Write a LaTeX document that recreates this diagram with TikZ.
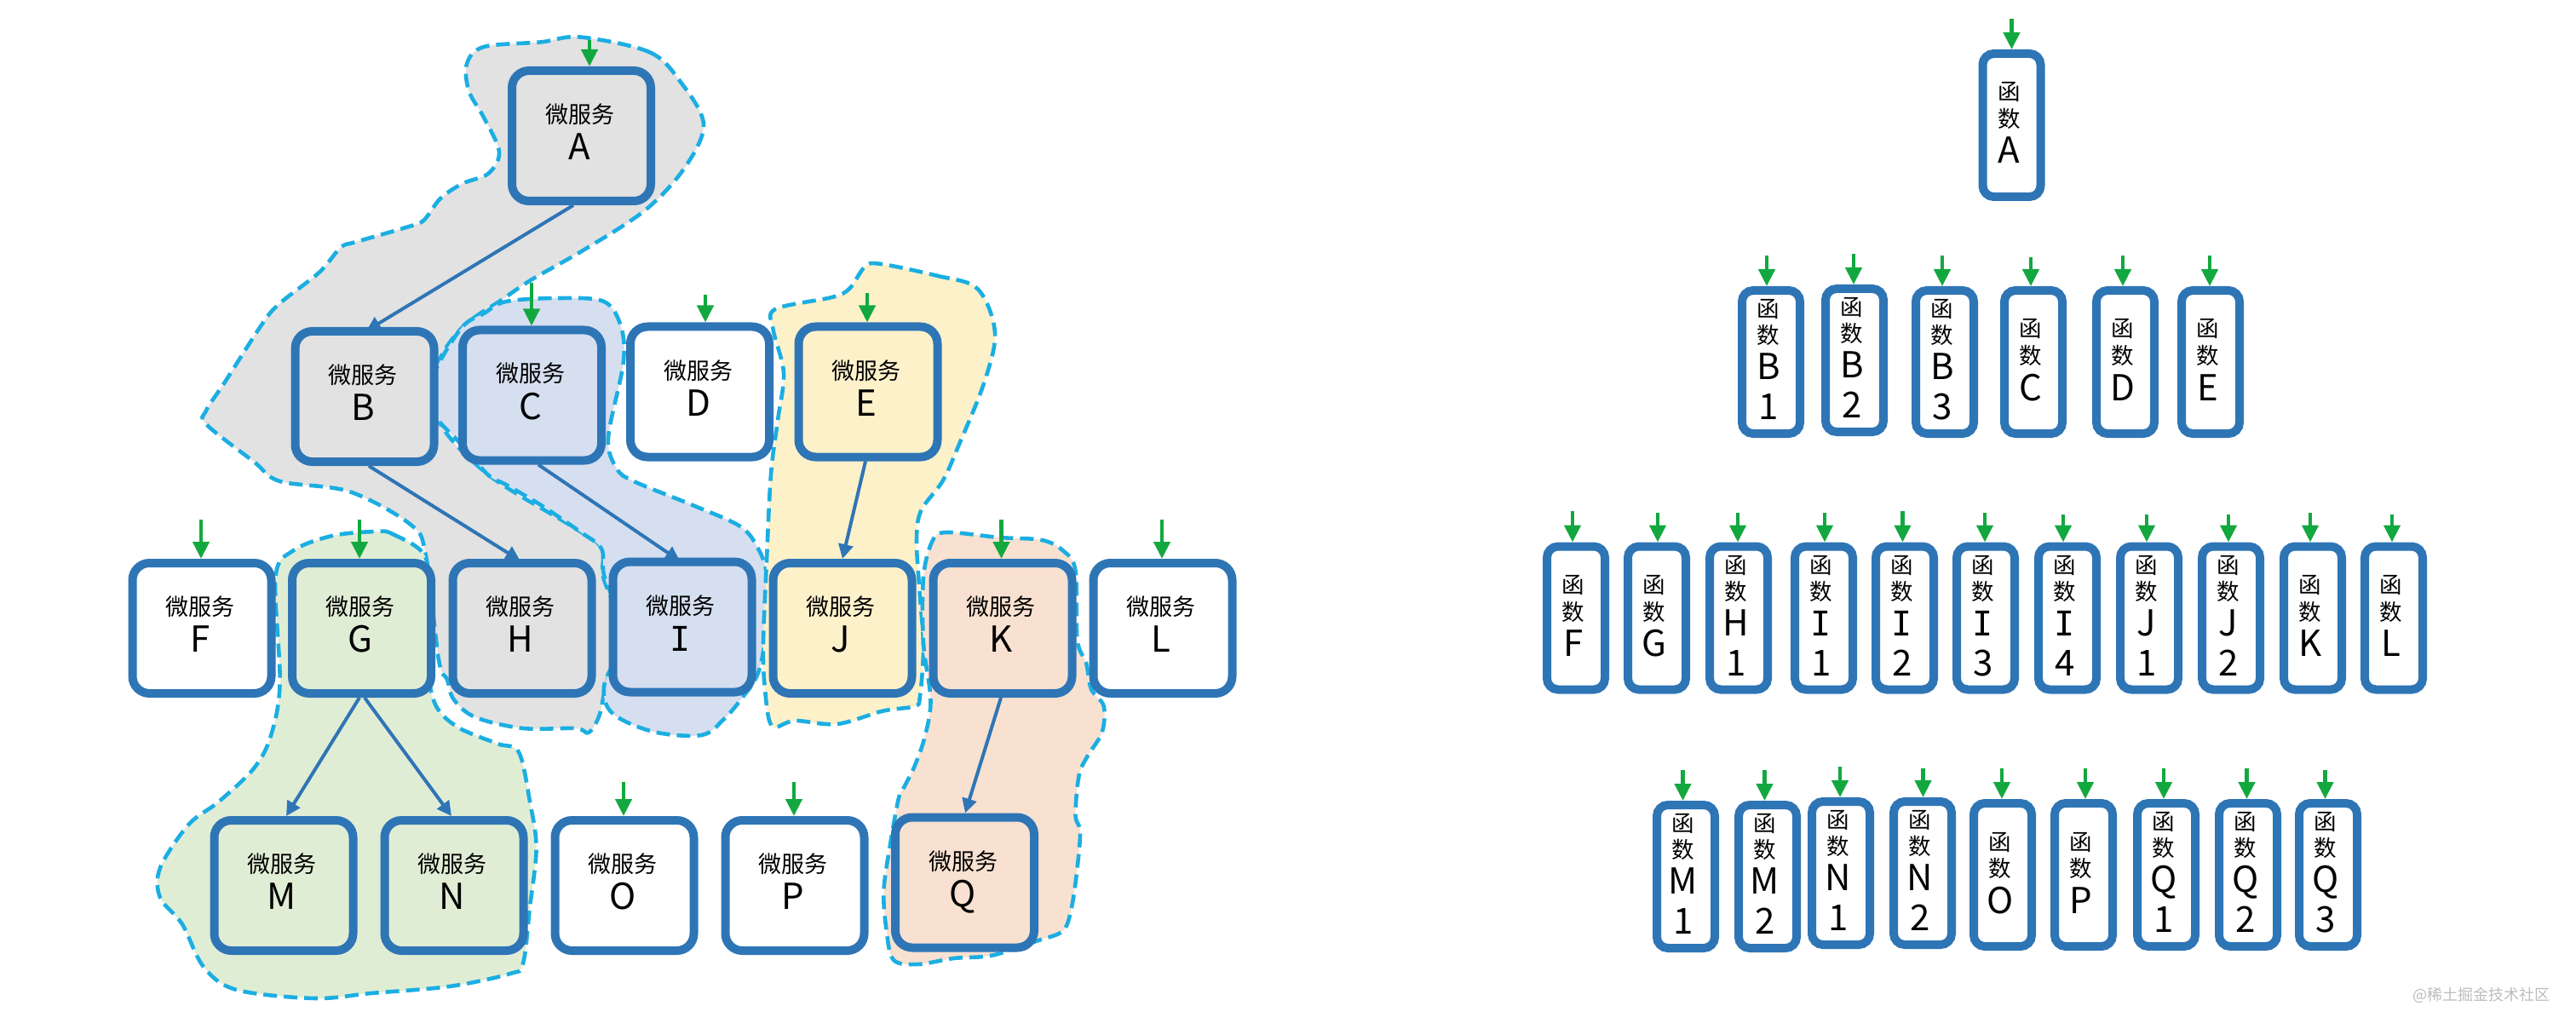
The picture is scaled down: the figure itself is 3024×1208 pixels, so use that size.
\documentclass[tikz,border=0pt]{standalone}
\usepackage{fontspec}
\setmainfont{Noto Sans CJK SC}
\newfontfamily\slabfont{DejaVu Sans Mono}
\usetikzlibrary{arrows.meta,backgrounds}
\definecolor{boxblue}{HTML}{2E75B6}
\definecolor{entrygreen}{HTML}{13A83F}
\definecolor{dashcyan}{HTML}{1BAEE2}
\definecolor{blobgrey}{HTML}{E2E2E2}
\definecolor{blobblue}{HTML}{D5DFF0}
\definecolor{blobyellow}{HTML}{FDF1CA}
\definecolor{bloborange}{HTML}{F8E1D0}
\definecolor{blobgreen}{HTML}{E0EDD5}
\definecolor{wmgrey}{HTML}{BDBDBD}
\newcommand\tline[4]{\hbox to 0pt{\hss\vrule width 0pt height #2 depth 0pt\smash{\fontsize{#3}{#3}\selectfont #4}\hss\kern #1}}
\newcommand\svctext[1]{\vbox{\offinterlineskip\tline{2pt}{6.5pt}{13.5pt}{微服务}\tline{2pt}{21.5pt}{21pt}{#1}}}
\newcommand\fnthree[1]{\vbox{\offinterlineskip\tline{3pt}{8pt}{13.25pt}{函}\tline{3pt}{15.75pt}{13.25pt}{数}\tline{3pt}{21.25pt}{21pt}{#1}}}
\newcommand\fnfour[2]{\vbox{\offinterlineskip\tline{3pt}{7.55pt}{13.25pt}{函}\tline{3pt}{15.5pt}{13.25pt}{数}\tline{3pt}{21pt}{21pt}{#1}\tline{3pt}{23.5pt}{21pt}{#2}}}
\newcommand\slabI{{\slabfont\fontsize{20}{20}\selectfont I}}
\tikzset{
  svc/.style={draw=boxblue,line width=5pt,rounded corners=10pt,minimum width=81.5pt,minimum height=76.5pt,inner sep=0pt,fill=white},
  fn/.style={draw=boxblue,line width=5pt,rounded corners=6.5pt,minimum width=34pt,minimum height=84pt,inner sep=0pt,fill=white},
  flow/.style={draw=boxblue,line width=2pt,-{Triangle[width=8.5pt,length=8.5pt]}},
  entryarrow/.style={draw=entrygreen,line width=2.2pt,-{Triangle[width=9.5pt,length=10pt]}},
  blob/.style={draw=dashcyan,line width=2.3pt,dash pattern=on 8pt off 4pt},
}
\newcommand\entry[3]{\coordinate (s-#1) at (#2,#3);\draw[entryarrow] (s-#1) -- (s-#1 |- #1.north);}
\begin{document}
\begin{tikzpicture}[x=0.5pt,y=-0.5pt]
\useasboundingbox (0,0) rectangle (3024,1208);
% microservices
\node[svc,fill=blobgrey] (A) at (682.5,159.5) {\svctext{A}};
\node[svc,fill=blobgrey] (B) at (428,465.5) {\svctext{B}};
\node[svc,fill=blobblue] (C) at (624.5,464) {\svctext{C}};
\node[svc] (D) at (821.5,460) {\svctext{D}};
\node[svc,fill=blobyellow] (E) at (1019,460) {\svctext{E}};
\node[svc] (F) at (237,737.5) {\svctext{F}};
\node[svc,fill=blobgreen] (G) at (424.5,737.5) {\svctext{G}};
\node[svc,fill=blobgrey] (H) at (613,737.5) {\svctext{H}};
\node[svc,fill=blobblue] (I) at (801,736) {\svctext{\slabI}};
\node[svc,fill=blobyellow] (J) at (989,737.5) {\svctext{J}};
\node[svc,fill=bloborange] (K) at (1177,737.5) {\svctext{K}};
\node[svc] (L) at (1365,737.5) {\svctext{L}};
\node[svc,fill=blobgreen] (M) at (333,1039.5) {\svctext{M}};
\node[svc,fill=blobgreen] (N) at (533,1039.5) {\svctext{N}};
\node[svc] (O) at (733,1039.5) {\svctext{O}};
\node[svc] (P) at (933,1039.5) {\svctext{P}};
\node[svc,fill=bloborange] (Q) at (1132.5,1036) {\svctext{Q}};
% functions
\node[fn] (fA) at (2361.5,147) {\fnthree{A}};
\node[fn] (fB1) at (2079,425) {\fnfour{B}{1}};
\node[fn] (fB2) at (2177,423) {\fnfour{B}{2}};
\node[fn] (fB3) at (2283,425) {\fnfour{B}{3}};
\node[fn] (fC) at (2387,425) {\fnthree{C}};
\node[fn] (fD) at (2495,425) {\fnthree{D}};
\node[fn] (fE) at (2595,425) {\fnthree{E}};
\node[fn] (fF) at (1850,725.5) {\fnthree{F}};
\node[fn] (fG) at (1945,725.5) {\fnthree{G}};
\node[fn] (fH1) at (2041,725.5) {\fnfour{H}{1}};
\node[fn] (fI1) at (2141,725.5) {\fnfour{\slabI}{1}};
\node[fn] (fI2) at (2236,725.5) {\fnfour{\slabI}{2}};
\node[fn] (fI3) at (2331,725.5) {\fnfour{\slabI}{3}};
\node[fn] (fI4) at (2427,725.5) {\fnfour{\slabI}{4}};
\node[fn] (fJ1) at (2523,725.5) {\fnfour{J}{1}};
\node[fn] (fJ2) at (2619,725.5) {\fnfour{J}{2}};
\node[fn] (fK) at (2715,725.5) {\fnthree{K}};
\node[fn] (fL) at (2810,725.5) {\fnthree{L}};
\node[fn] (fM1) at (1979,1029) {\fnfour{M}{1}};
\node[fn] (fM2) at (2075,1029) {\fnfour{M}{2}};
\node[fn] (fN1) at (2161,1025) {\fnfour{N}{1}};
\node[fn] (fN2) at (2257,1025) {\fnfour{N}{2}};
\node[fn] (fO) at (2351,1027) {\fnthree{O}};
\node[fn] (fP) at (2446,1027) {\fnthree{P}};
\node[fn] (fQ1) at (2543,1027) {\fnfour{Q}{1}};
\node[fn] (fQ2) at (2639,1027) {\fnfour{Q}{2}};
\node[fn] (fQ3) at (2733,1027) {\fnfour{Q}{3}};
\node[text=wmgrey,inner sep=0pt,font=\fontsize{9}{9}\selectfont] (wm) at (2913,1168) {@稀土掘金技术社区};
\begin{scope}[on background layer]
\fill[white] (0,0) rectangle (3024,1208);
% grey group
\draw[blob,fill=blobgrey] plot[smooth cycle,tension=0.55] coordinates {(681,43.5)(762,61)(798,95)(826,146)(803,198)(757,247)(686,293)(624.5,328)(589,352)(543,384)(513,431)(515,494)(573.5,557.5)(670,617)(706,642.6)(708,677)(726.5,724)(731.6,751)(724,763)(711,805.5)(703.5,840)(691,860)(675.5,855)(614,855)(558,842)(532.6,821)(525,798)(515,774.5)(499.5,650)(481.6,615.5)(410,577)(328.6,565)(298,542)(242,498)(242,482)(265,447)(308,380)(328.6,356)(374.5,320)(400,290.6)(418,284)(476.5,267)(497,259)(517,233)(543,215.5)(573.5,203.6)(586,178)(568,138)(550.5,107)(548,75)(568,55)(635,49.4)};
% blue group
\draw[blob,fill=blobblue] plot[smooth cycle,tension=0.55] coordinates {(594,354)(655,350)(709,354)(729,383.5)(731.6,427)(714,514)(724,550)(744,565)(813,593)(869,618)(890,644)(900,675)(900,735)(890,790)(869,822)(849,845)(823.5,863)(767,859)(719,837.5)(709,806)(726.5,762)(726.5,723)(709,675)(706,644)(680.6,624)(635,593)(594,569)(573,557.5)(538,518)(515,494)(502,470.5)(513,431)(543,383.5)(568,368)};
% yellow group
\draw[blob,fill=blobyellow] plot[smooth cycle,tension=0.55] coordinates {(1032.6,309.7)(1099,323.5)(1147.5,339)(1168,390.7)(1155,450)(1124.5,525)(1106.6,564.7)(1081,600)(1076,636)(1080,700)(1084,760)(1080,817)(1074,829)(1036.6,834.6)(982.7,850)(933,846)(906,852)(897.7,805.5)(896,755)(900,658)(905,557)(913,493.5)(920,438)(907.6,386.8)(910,363)(976.5,349)(997,339)(1015,313.6)};
% orange group
\draw[blob,fill=bloborange] plot[smooth cycle,tension=0.55] coordinates {(1111,625)(1173.4,631)(1223,634)(1248,646.5)(1262.5,670)(1264.6,751)(1275,778)(1281,809)(1295.7,829)(1293.6,860)(1277,887)(1266.7,910)(1262.5,957)(1268,976)(1264.6,1019)(1258,1065)(1248,1092.5)(1219,1104)(1165,1121.5)(1119.5,1125)(1078,1132)(1049,1127)(1040.7,1092.4)(1037.4,1046)(1045,991.6)(1055,937)(1061.4,924)(1074,898.6)(1086,863.7)(1092.5,821)(1084,755)(1084,677.5)(1094.6,635)};
% green group
\draw[blob,fill=blobgreen] plot[smooth cycle,tension=0.55] coordinates {(441,624)(461,627)(499.5,654)(499.5,716)(502,786)(512,829)(538,854)(583.7,873)(609,883)(622,941)(629.6,995.5)(622,1065)(614,1131)(599,1143)(527.6,1158)(435.7,1166)(369.4,1172)(277.6,1162)(239,1135)(214,1085)(188,1053.7)(188,1018.8)(221.4,968)(257,941)(298,902)(318,863.7)(328.6,801.6)(323.5,677.5)(344,646.5)(390,629)};
% connectors
\draw[flow] ([xshift=-4.75pt]A.south) -- ([xshift=1pt,yshift=-2.25pt]B.north);
\draw[flow] ([xshift=2.5pt]B.south) -- ([xshift=-1.25pt,yshift=-1pt]H.north);
\draw[flow] ([xshift=3.75pt]C.south) -- ([xshift=-1.5pt,yshift=-2pt]I.north);
\draw[flow] ([xshift=-1.5pt]E.south) -- (J.north);
\draw[flow] ([xshift=-1.25pt]G.south) -- ([xshift=1.5pt]M.north);
\draw[flow] ([xshift=1.75pt]G.south) -- ([xshift=-1.5pt]N.north);
\draw[flow] ([xshift=-1pt]K.south) -- ([xshift=0.25pt]Q.north);
\end{scope}
% entry arrows, services
\entry{A}{692}{47}\entry{C}{624}{332}\entry{D}{828}{346}\entry{E}{1018}{344}
\entry{F}{236}{610}\entry{G}{422}{610}\entry{K}{1175.5}{610}\entry{L}{1364}{610}
\entry{O}{732}{918}\entry{P}{932}{918}
% entry arrows, functions
\entry{fA}{2361.5}{22}
\entry{fB1}{2074}{300}\entry{fB2}{2176}{298}\entry{fB3}{2280}{300}\entry{fC}{2384}{302}\entry{fD}{2492}{300}\entry{fE}{2594}{300}
\entry{fF}{1846}{600}\entry{fG}{1946}{602}\entry{fH1}{2040}{602}\entry{fI1}{2142}{602}\entry{fI2}{2233.5}{600}\entry{fI3}{2330}{602}\entry{fI4}{2422}{604}\entry{fJ1}{2520}{604}\entry{fJ2}{2616}{604}\entry{fK}{2712}{602}\entry{fL}{2808}{604}
\entry{fM1}{1975.5}{904}\entry{fM2}{2071.5}{904}\entry{fN1}{2160}{900}\entry{fN2}{2257.5}{902}\entry{fO}{2350}{902}\entry{fP}{2448}{902}\entry{fQ1}{2540}{902}\entry{fQ2}{2637.5}{902}\entry{fQ3}{2729.5}{904}
\end{tikzpicture}
\end{document}
